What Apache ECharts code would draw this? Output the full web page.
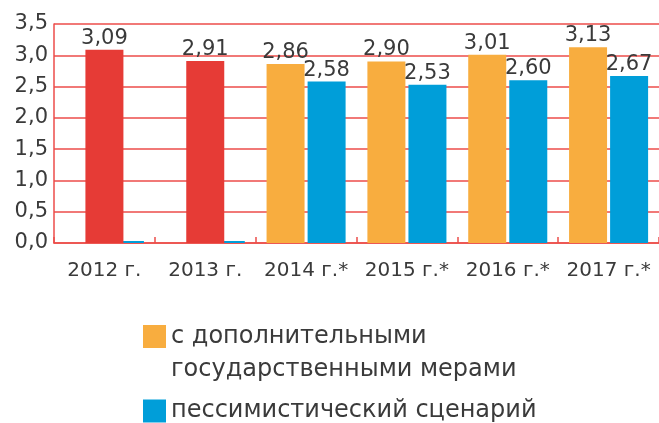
<!DOCTYPE html>
<html>
<head>
<meta charset="utf-8">
<script src="https://cdn.jsdelivr.net/npm/echarts@6/dist/echarts.min.js"></script>
<style>
html,body{margin:0;padding:0;background:#fff;}
#chart{width:659px;height:423px;}
</style>
</head>
<body>
<div id="chart"></div>
<script>
const categories = ['2012 г.', '2013 г.', '2014 г.*', '2015 г.*', '2016 г.*', '2017 г.*'];
const actualValues = [3.09, 2.91, null, null, null, null];
const stateMeasuresValues = [null, null, 2.86, 2.90, 3.01, 3.13];
const pessimisticValues = [0, 0, 2.58, 2.53, 2.60, 2.67];
const yTicks = [0, 0.5, 1.0, 1.5, 2.0, 2.5, 3.0, 3.5];
const legendNames = ['с дополнительными\nгосударственными мерами', 'пессимистический сценарий'];

const FONT = 'DejaVu Sans';
const TEXT = '#3a3a3a';
const GRIDRED = '#ec4d4a';
const fmt2 = p => (p.value === null || p.value === 0) ? '' : p.value.toFixed(2).replace('.', ',');

const chart = echarts.init(document.getElementById('chart'), null, {renderer: 'canvas'});
chart.setOption({
  animation: false,
  textStyle: {fontFamily: FONT},
  grid: {left: 54, right: -3, top: 24, bottom: 180, containLabel: false},
  legend: [{
    data: [legendNames[0]],
    orient: 'vertical',
    left: 143, top: 287,
    padding: 0,
    icon: 'rect', itemWidth: 23, itemHeight: 23, itemGap: 0,
    selectedMode: false,
    formatter: n => '\n' + n,
    textStyle: {fontFamily: FONT, fontSize: 24, color: TEXT, lineHeight: 33}
  }, {
    data: [legendNames[1]],
    orient: 'vertical',
    left: 143, top: 399,
    padding: 0,
    icon: 'rect', itemWidth: 23, itemHeight: 23,
    selectedMode: false,
    textStyle: {fontFamily: FONT, fontSize: 24, color: TEXT}
  }],
  xAxis: [{
    type: 'category', data: categories,
    axisLine: {lineStyle: {color: GRIDRED, width: 1.5}},
    axisTick: {show: true, inside: true, interval: 0, length: 6, lineStyle: {color: GRIDRED, width: 1.5}},
    axisLabel: {interval: 0, fontFamily: FONT, fontSize: 20, color: TEXT, margin: 18}
  }, {
    type: 'category', data: categories, show: false
  }],
  yAxis: {
    type: 'value', min: 0, max: 3.5, interval: 0.5,
    axisLine: {show: true, lineStyle: {color: GRIDRED, width: 1.5}},
    axisTick: {show: false},
    splitLine: {lineStyle: {color: GRIDRED, width: 1.5}},
    axisLabel: {fontFamily: FONT, fontSize: 21, color: TEXT, margin: 6,
      formatter: v => v.toFixed(1).replace('.', ',')}
  },
  series: [{
    name: legendNames[0], type: 'bar', xAxisIndex: 0, data: stateMeasuresValues,
    barWidth: 38, barGap: '8%',
    itemStyle: {color: '#f8ad3f'},
    label: {show: true, position: 'top', distance: 1, fontFamily: FONT, fontSize: 21, color: TEXT, formatter: fmt2}
  }, {
    name: legendNames[1], type: 'bar', xAxisIndex: 0, data: pessimisticValues,
    barWidth: 38, barGap: '8%', barMinHeight: 2,
    itemStyle: {color: '#009ed9'},
    label: {show: true, position: 'top', distance: 1, fontFamily: FONT, fontSize: 21, color: TEXT, formatter: fmt2}
  }, {
    name: 'факт', type: 'bar', xAxisIndex: 1, data: actualValues,
    barWidth: 38,
    itemStyle: {color: '#e63b36'},
    label: {show: true, position: 'top', distance: 1, fontFamily: FONT, fontSize: 21, color: TEXT, formatter: fmt2}
  }]
});
</script>
</body>
</html>
